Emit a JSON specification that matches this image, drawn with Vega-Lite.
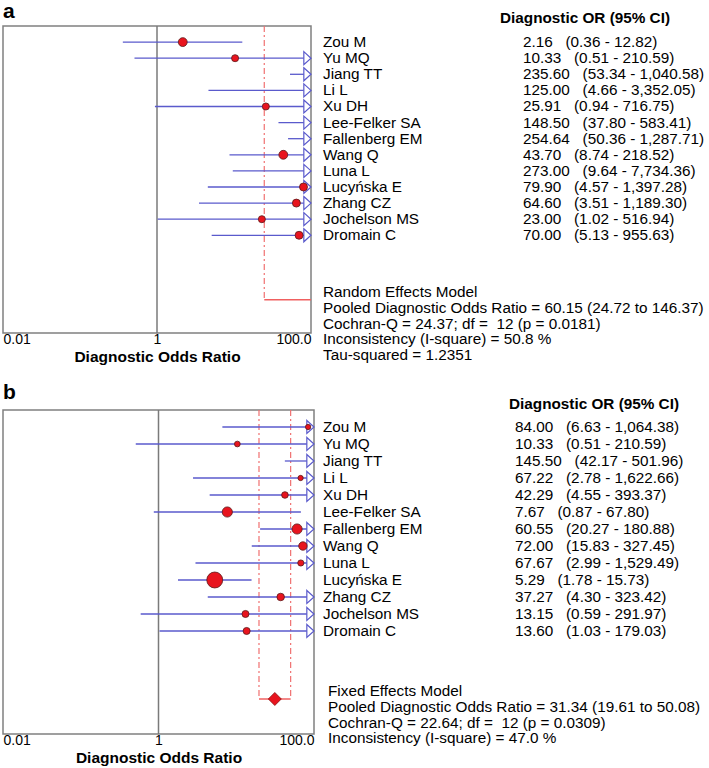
{
  "$schema": "https://vega.github.io/schema/vega-lite/v6.json",
  "background": "white",
  "padding": {"left": 2, "top": 0, "right": 0, "bottom": 0},
  "config": {
    "view": {"stroke": "#808080", "strokeWidth": 1.5},
    "font": "Liberation Sans",
    "title": {"font": "Liberation Sans", "color": "black"},
    "text": {"font": "Liberation Sans", "color": "black", "fontSize": 15.3},
    "axis": {
      "labelFont": "Liberation Sans", "labelColor": "black", "labelFontSize": 14,
      "titleFont": "Liberation Sans", "titleColor": "black", "titleFontSize": 15.5, "titleFontWeight": "bold",
      "ticks": false, "domain": false, "grid": false
    }
  },
  "datasets": {
    "studiesA": [
      {"row": 1, "study": "Zou M", "or": 2.16, "lo": 0.36, "hi": 12.82, "weight": 7.9},
      {"row": 2, "study": "Yu MQ", "or": 10.33, "lo": 0.51, "hi": 210.59, "weight": 5.0},
      {"row": 3, "study": "Jiang TT", "or": 235.60, "lo": 53.34, "hi": 1040.58, "weight": 6.0},
      {"row": 4, "study": "Li L", "or": 125.00, "lo": 4.66, "hi": 3352.05, "weight": 5.0},
      {"row": 5, "study": "Xu DH", "or": 25.91, "lo": 0.94, "hi": 716.75, "weight": 5.0},
      {"row": 6, "study": "Lee-Felker SA", "or": 148.50, "lo": 37.80, "hi": 583.41, "weight": 7.0},
      {"row": 7, "study": "Fallenberg EM", "or": 254.64, "lo": 50.36, "hi": 1287.71, "weight": 7.0},
      {"row": 8, "study": "Wang Q", "or": 43.70, "lo": 8.74, "hi": 218.52, "weight": 7.9},
      {"row": 9, "study": "Luna L", "or": 273.00, "lo": 9.64, "hi": 7734.36, "weight": 5.0},
      {"row": 10, "study": "Lucyńska E", "or": 79.90, "lo": 4.57, "hi": 1397.28, "weight": 6.4},
      {"row": 11, "study": "Zhang CZ", "or": 64.60, "lo": 3.51, "hi": 1189.30, "weight": 6.4},
      {"row": 12, "study": "Jochelson MS", "or": 23.00, "lo": 1.02, "hi": 516.94, "weight": 5.0},
      {"row": 13, "study": "Dromain C", "or": 70.00, "lo": 5.13, "hi": 955.63, "weight": 6.4}
    ],
    "pooledA": [
      {"row": 17, "model": "Random Effects Model", "or": 60.15, "lo": 24.72, "hi": 146.37, "q": 24.37, "df": 12, "p": 0.0181, "i2": 50.8, "tau2": 1.2351}
    ],
    "studiesB": [
      {"row": 1, "study": "Zou M", "or": 84.00, "lo": 6.63, "hi": 1064.38, "weight": 2.8},
      {"row": 2, "study": "Yu MQ", "or": 10.33, "lo": 0.51, "hi": 210.59, "weight": 3.3},
      {"row": 3, "study": "Jiang TT", "or": 145.50, "lo": 42.17, "hi": 501.96, "weight": 8.0},
      {"row": 4, "study": "Li L", "or": 67.22, "lo": 2.78, "hi": 1622.66, "weight": 2.8},
      {"row": 5, "study": "Xu DH", "or": 42.29, "lo": 4.55, "hi": 393.37, "weight": 4.4},
      {"row": 6, "study": "Lee-Felker SA", "or": 7.67, "lo": 0.87, "hi": 67.80, "weight": 10.4},
      {"row": 7, "study": "Fallenberg EM", "or": 60.55, "lo": 20.27, "hi": 180.88, "weight": 10.4},
      {"row": 8, "study": "Wang Q", "or": 72.00, "lo": 15.83, "hi": 327.45, "weight": 7.1},
      {"row": 9, "study": "Luna L", "or": 67.67, "lo": 2.99, "hi": 1529.49, "weight": 3.8},
      {"row": 10, "study": "Lucyńska E", "or": 5.29, "lo": 1.78, "hi": 15.73, "weight": 25.4},
      {"row": 11, "study": "Zhang CZ", "or": 37.27, "lo": 4.30, "hi": 323.42, "weight": 5.7},
      {"row": 12, "study": "Jochelson MS", "or": 13.15, "lo": 0.59, "hi": 291.97, "weight": 5.0},
      {"row": 13, "study": "Dromain C", "or": 13.60, "lo": 1.03, "hi": 179.03, "weight": 5.0}
    ],
    "pooledB": [
      {"row": 17, "model": "Fixed Effects Model", "or": 31.34, "lo": 19.61, "hi": 50.08, "q": 22.64, "df": 12, "p": 0.0309, "i2": 47.0}
    ]
  },
  "spacing": 15,
  "vconcat": [
    {
      "spacing": 8,
      "hconcat": [
        {
          "title": {"text": "a", "anchor": "start", "fontSize": 21, "fontWeight": "bold", "offset": 3},
          "width": 308, "height": 307,
          "layer": [
            {
              "data": {"name": "pooledA"},
              "transform": [{"calculate": "1", "as": "one"}],
              "mark": {"type": "rule", "color": "#7a7a7a", "strokeWidth": 1.5},
              "encoding": {
                "x": {"field": "one", "type": "quantitative",
                  "scale": {"type": "log", "domain": [0.01, 100], "clamp": true, "nice": false},
                  "axis": {"values": [0.01, 1, 100], "labelExpr": "datum.value >= 100 ? '100.0' : datum.value >= 1 ? '1' : '0.01'", "labelFlush": true, "labelPadding": -1, "title": "Diagnostic Odds Ratio", "titlePadding": 3}
                }
              }
            },
            {
              "data": {"name": "pooledA"},
              "transform": [{"fold": ["lo", "hi"], "as": ["bound", "val"]}, {"filter": "datum.val <= 100"}, {"calculate": "0", "as": "top"}],
              "mark": {"type": "rule", "color": "#f07070", "strokeWidth": 1.2, "strokeDash": [6, 3, 2, 3]},
              "encoding": {
                "x": {"field": "val", "type": "quantitative"},
                "y": {"field": "top", "type": "quantitative", "scale": {"domain": [0, 19.07], "reverse": true, "nice": false, "zero": false}, "axis": null},
                "y2": {"field": "row"}
              }
            },
            {
              "data": {"name": "pooledA"},
              "mark": {"type": "rule", "color": "#f06060", "strokeWidth": 1.5},
              "encoding": {
                "x": {"field": "lo", "type": "quantitative"},
                "x2": {"field": "hi"},
                "y": {"field": "row", "type": "quantitative"}
              }
            },
            {
              "data": {"name": "studiesA"},
              "mark": {"type": "rule", "color": "#5a5acc", "strokeWidth": 1.3},
              "encoding": {
                "x": {"field": "lo", "type": "quantitative"},
                "x2": {"field": "hi"},
                "y": {"field": "row", "type": "quantitative"}
              }
            },
            {
              "data": {"name": "studiesA"},
              "transform": [{"filter": "datum.hi > 100"}],
              "mark": {"type": "point", "shape": "M-1.1,-1L0,0L-1.1,1Z", "size": 170, "filled": true, "fill": "white", "stroke": "#5a5acc", "strokeWidth": 1.2, "opacity": 1},
              "encoding": {
                "x": {"field": "hi", "type": "quantitative"},
                "y": {"field": "row", "type": "quantitative"}
              }
            },
            {
              "data": {"name": "studiesA"},
              "transform": [{"filter": "datum.or <= 100"}],
              "mark": {"type": "circle", "fill": "#e8141e", "stroke": "#5a1a1a", "strokeWidth": 0.8, "opacity": 1},
              "encoding": {
                "x": {"field": "or", "type": "quantitative"},
                "y": {"field": "row", "type": "quantitative"},
                "size": {"field": "weight", "type": "quantitative", "scale": {"domain": [0, 25], "range": [0, 250]}, "legend": null}
              }
            }
          ]
        },
        {
          "title": {"text": "Diagnostic OR (95% CI)", "anchor": "start", "dx": 177, "fontSize": 15.3, "fontWeight": "bold", "offset": 0},
          "width": 200, "height": 307,
          "view": {"stroke": null},
          "layer": [
            {
              "data": {"name": "studiesA"},
              "transform": [
                {"calculate": "format(datum.or, '.2f') + '\u00a0\u00a0\u00a0(' + format(datum.lo, ',.2f') + ' - ' + format(datum.hi, ',.2f') + ')'", "as": "label"},
                {"fold": ["study", "label"], "as": ["col", "txt"]}
              ],
              "mark": {"type": "text", "align": "left", "baseline": "middle"},
              "encoding": {
                "x": {"field": "col", "type": "nominal", "scale": {"type": "point", "domain": ["study", "label"], "padding": 0}, "axis": null},
                "y": {"field": "row", "type": "quantitative", "scale": {"domain": [0, 19.07], "reverse": true, "nice": false, "zero": false}, "axis": null},
                "text": {"field": "txt", "type": "nominal"}
              }
            },
            {
              "data": {"name": "pooledA"},
              "transform": [
                {"calculate": "[datum.model, 'Pooled Diagnostic Odds Ratio = ' + format(datum.or, '.2f') + ' (' + format(datum.lo, '.2f') + ' to ' + format(datum.hi, '.2f') + ')', 'Cochran-Q = ' + format(datum.q, '.2f') + '; df =\u00a0\u00a0' + datum.df + ' (p = ' + format(datum.p, '.4f') + ')', 'Inconsistency (I-square) = ' + format(datum.i2, '.1f') + ' %', 'Tau-squared = ' + format(datum.tau2, '.4f')]", "as": "lines"},
                {"calculate": "'study'", "as": "col"}
              ],
              "mark": {"type": "text", "align": "left", "baseline": "middle", "lineHeight": 15.7, "dy": -7.5},
              "encoding": {
                "x": {"field": "col", "type": "nominal"},
                "y": {"field": "row", "type": "quantitative"},
                "text": {"field": "lines"}
              }
            }
          ]
        }
      ]
    },
    {
      "spacing": 5,
      "hconcat": [
        {
          "title": {"text": "b", "anchor": "start", "fontSize": 21, "fontWeight": "bold", "offset": 6},
          "width": 311, "height": 324,
          "layer": [
            {
              "data": {"name": "pooledB"},
              "transform": [{"calculate": "1", "as": "one"}],
              "mark": {"type": "rule", "color": "#7a7a7a", "strokeWidth": 1.5},
              "encoding": {
                "x": {"field": "one", "type": "quantitative",
                  "scale": {"type": "log", "domain": [0.01, 100], "clamp": true, "nice": false},
                  "axis": {"values": [0.01, 1, 100], "labelExpr": "datum.value >= 100 ? '100.0' : datum.value >= 1 ? '1' : '0.01'", "labelFlush": true, "labelPadding": -1, "title": "Diagnostic Odds Ratio", "titlePadding": 3}
                }
              }
            },
            {
              "data": {"name": "pooledB"},
              "transform": [{"fold": ["lo", "hi"], "as": ["bound", "val"]}, {"filter": "datum.val <= 100"}, {"calculate": "0", "as": "top"}],
              "mark": {"type": "rule", "color": "#f07070", "strokeWidth": 1.2, "strokeDash": [6, 3, 2, 3]},
              "encoding": {
                "x": {"field": "val", "type": "quantitative"},
                "y": {"field": "top", "type": "quantitative", "scale": {"domain": [0, 19.06], "reverse": true, "nice": false, "zero": false}, "axis": null},
                "y2": {"field": "row"}
              }
            },
            {
              "data": {"name": "pooledB"},
              "mark": {"type": "rule", "color": "#f06060", "strokeWidth": 1.5},
              "encoding": {
                "x": {"field": "lo", "type": "quantitative"},
                "x2": {"field": "hi"},
                "y": {"field": "row", "type": "quantitative"}
              }
            },
            {
              "data": {"name": "studiesB"},
              "mark": {"type": "rule", "color": "#5a5acc", "strokeWidth": 1.3},
              "encoding": {
                "x": {"field": "lo", "type": "quantitative"},
                "x2": {"field": "hi"},
                "y": {"field": "row", "type": "quantitative"}
              }
            },
            {
              "data": {"name": "studiesB"},
              "transform": [{"filter": "datum.hi > 100"}],
              "mark": {"type": "point", "shape": "M-1.1,-1L0,0L-1.1,1Z", "size": 170, "filled": true, "fill": "white", "stroke": "#5a5acc", "strokeWidth": 1.2, "opacity": 1},
              "encoding": {
                "x": {"field": "hi", "type": "quantitative"},
                "y": {"field": "row", "type": "quantitative"}
              }
            },
            {
              "data": {"name": "studiesB"},
              "transform": [{"filter": "datum.or <= 100"}],
              "mark": {"type": "circle", "fill": "#e8141e", "stroke": "#5a1a1a", "strokeWidth": 0.8, "opacity": 1},
              "encoding": {
                "x": {"field": "or", "type": "quantitative"},
                "y": {"field": "row", "type": "quantitative"},
                "size": {"field": "weight", "type": "quantitative", "scale": {"domain": [0, 25], "range": [0, 250]}, "legend": null}
              }
            },
            {
              "data": {"name": "pooledB"},
              "mark": {"type": "point", "shape": "diamond", "size": 169, "filled": true, "fill": "#e8141e", "stroke": "#8a1010", "strokeWidth": 0.8, "opacity": 1},
              "encoding": {
                "x": {"field": "or", "type": "quantitative"},
                "y": {"field": "row", "type": "quantitative"}
              }
            }
          ]
        },
        {
          "title": {"text": "Diagnostic OR (95% CI)", "anchor": "start", "dx": 186, "fontSize": 15.3, "fontWeight": "bold", "offset": -2},
          "width": 192, "height": 324,
          "view": {"stroke": null},
          "layer": [
            {
              "data": {"name": "studiesB"},
              "transform": [
                {"calculate": "format(datum.or, '.2f') + '\u00a0\u00a0\u00a0(' + format(datum.lo, ',.2f') + ' - ' + format(datum.hi, ',.2f') + ')'", "as": "label"},
                {"fold": ["study", "label"], "as": ["col", "txt"]}
              ],
              "mark": {"type": "text", "align": "left", "baseline": "middle"},
              "encoding": {
                "x": {"field": "col", "type": "nominal", "scale": {"type": "point", "domain": ["study", "label"], "padding": 0}, "axis": null},
                "y": {"field": "row", "type": "quantitative", "scale": {"domain": [0, 19.06], "reverse": true, "nice": false, "zero": false}, "axis": null},
                "text": {"field": "txt", "type": "nominal"}
              }
            },
            {
              "data": {"name": "pooledB"},
              "transform": [
                {"calculate": "[datum.model, 'Pooled Diagnostic Odds Ratio = ' + format(datum.or, '.2f') + ' (' + format(datum.lo, '.2f') + ' to ' + format(datum.hi, '.2f') + ')', 'Cochran-Q = ' + format(datum.q, '.2f') + '; df =\u00a0\u00a0' + datum.df + ' (p = ' + format(datum.p, '.4f') + ')', 'Inconsistency (I-square) = ' + format(datum.i2, '.1f') + ' %']", "as": "lines"},
                {"calculate": "'study'", "as": "col"}
              ],
              "mark": {"type": "text", "align": "left", "baseline": "middle", "lineHeight": 15.8, "dx": 5, "dy": -8},
              "encoding": {
                "x": {"field": "col", "type": "nominal"},
                "y": {"field": "row", "type": "quantitative"},
                "text": {"field": "lines"}
              }
            }
          ]
        }
      ]
    }
  ]
}
